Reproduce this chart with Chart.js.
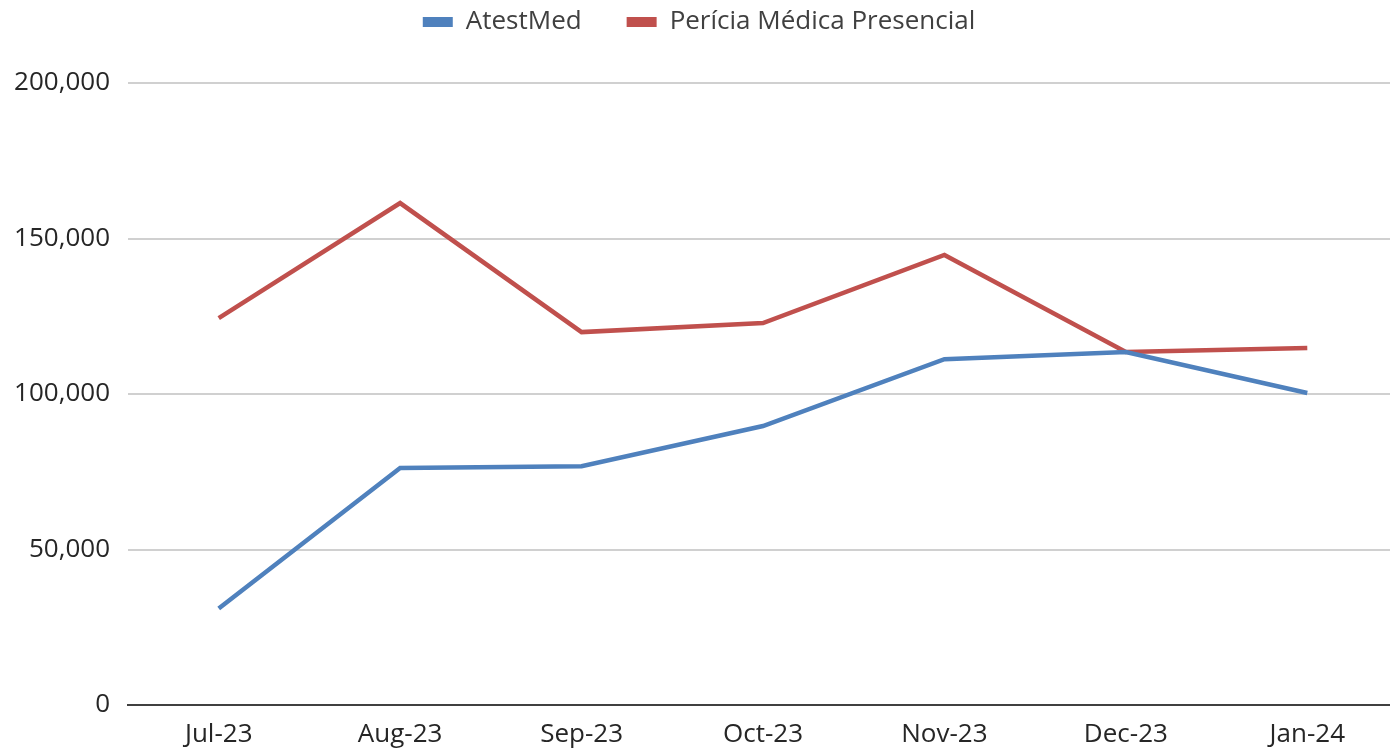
<!DOCTYPE html>
<html>
<head>
<meta charset="utf-8">
<script src="https://cdn.jsdelivr.net/npm/chart.js@4"></script>
<style>
  html, body { margin: 0; padding: 0; background: #ffffff; overflow: hidden; }
  #wrap { width: 1398px; height: 748px; }
</style>
</head>
<body>
<div id="wrap"><canvas id="chart"></canvas></div>
<script>
// monthly counts
const months = ['Jul-23', 'Aug-23', 'Sep-23', 'Oct-23', 'Nov-23', 'Dec-23', 'Jan-24'];
const atestMed = [31000, 76200, 76800, 89700, 111200, 113500, 100300];
const periciaPresencial = [124400, 161400, 119900, 122800, 144700, 113500, 114800];

const BLUE = '#4f81bd';
const RED = '#c0504d';
const FONT = "'Open Sans', 'Noto Sans', sans-serif";

// extra room between the legend and the plot
const legendSpacer = {
  id: 'legendSpacer',
  beforeInit(chart) {
    const fit = chart.legend.fit;
    chart.legend.fit = function () {
      fit.call(this);
      this.height += 38;
    };
  }
};

new Chart(document.getElementById('chart'), {
  type: 'line',
  data: {
    labels: months,
    datasets: [
      {
        label: 'AtestMed',
        data: atestMed,
        borderColor: BLUE,
        backgroundColor: BLUE,
        borderWidth: 4.5,
        pointRadius: 0,
        tension: 0
      },
      {
        label: 'Perícia Médica Presencial',
        data: periciaPresencial,
        borderColor: RED,
        backgroundColor: RED,
        borderWidth: 4.5,
        pointRadius: 0,
        tension: 0
      }
    ]
  },
  plugins: [legendSpacer],
  options: {
    responsive: true,
    maintainAspectRatio: false,
    animation: false,
    layout: { padding: { top: -36, right: 0, left: 0, bottom: 0 } },
    plugins: {
      tooltip: { enabled: false },
      legend: {
        position: 'top',
        labels: {
          color: '#404040',
          font: { family: FONT, size: 26 },
          boxWidth: 30,
          boxHeight: 10,
          padding: 45,
          generateLabels: (chart) =>
            Chart.defaults.plugins.legend.labels.generateLabels(chart)
              .map(item => ({ ...item, lineWidth: 0 }))
        }
      }
    },
    scales: {
      x: {
        offset: true,
        grid: { display: false, drawTicks: false },
        border: { display: true, color: '#404040', width: 2 },
        ticks: {
          color: '#262626',
          font: { family: FONT, size: 26 },
          padding: 14,
          maxRotation: 0
        },
        afterFit(scale) { scale.height = 43; }
      },
      y: {
        min: 0,
        max: 200000,
        grid: { color: '#d0d0d0', lineWidth: 2, drawTicks: false },
        border: { display: false },
        ticks: {
          stepSize: 50000,
          color: '#262626',
          font: { family: FONT, size: 26 },
          padding: 18,
          callback: (v) => v.toLocaleString('en-US')
        },
        afterFit(scale) { scale.width = 128; }
      }
    }
  }
});
</script>
</body>
</html>
